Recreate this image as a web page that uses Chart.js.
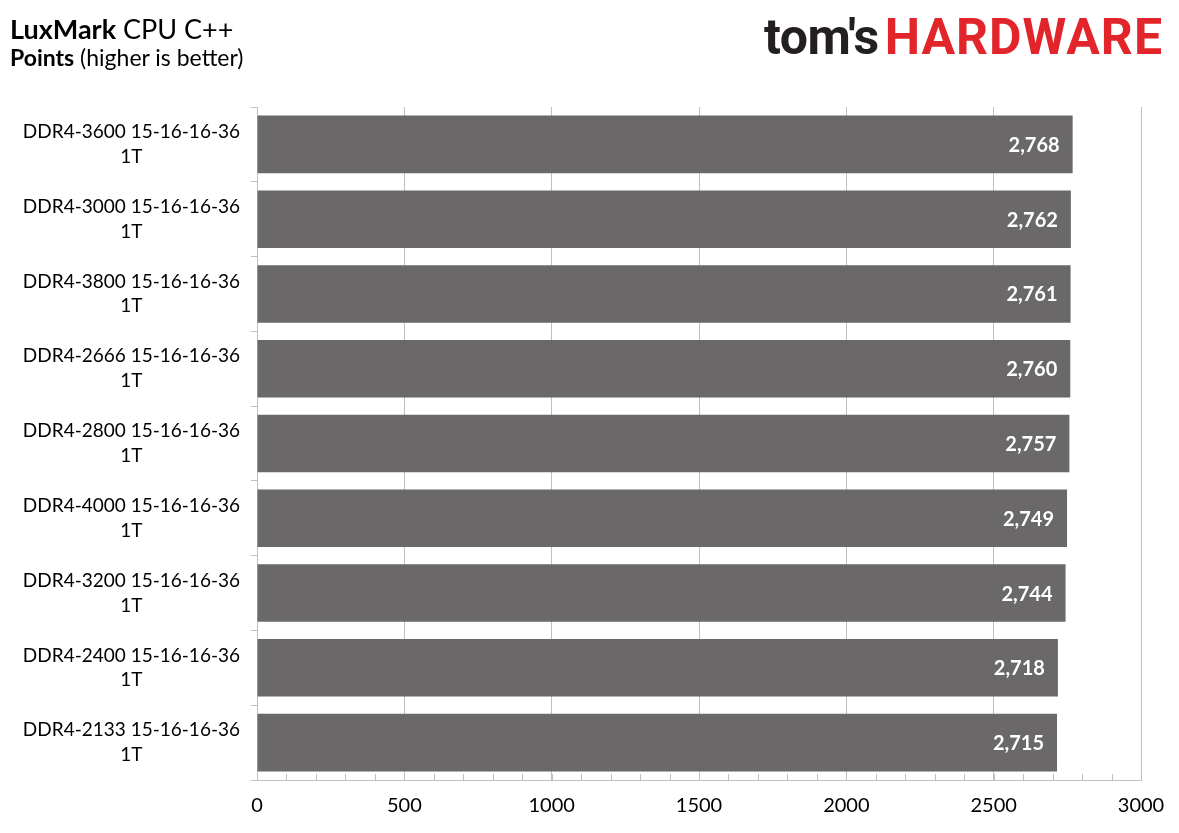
<!DOCTYPE html>
<html>
<head>
<meta charset="utf-8">
<script src="https://cdn.jsdelivr.net/npm/chart.js@4.4.0/dist/chart.umd.min.js"></script>
<style>
  body { margin: 0; background: #fff; }
  #wrap { position: relative; width: 1179px; height: 833px; font-family: Lato, sans-serif; }
  #chart { position: absolute; left: 0; top: 0; }
  .title { position: absolute; left: 10px; color: #000; white-space: nowrap; }
  #t1 { top: 12px; font-size: 27px; }
  #t2 { top: 43px; font-size: 23px; }
  #logo { position: absolute; right: 16px; top: 8px; font-family: Roboto, sans-serif; font-weight: 700; font-size: 50px; letter-spacing: -0.5px; white-space: nowrap; }
  #logo .a { color: #231f20; }
  #logo .b { color: #e1252a; margin-left: 6px; letter-spacing: 1px; }
</style>
</head>
<body>
<div id="wrap">
  <canvas id="chart" width="1179" height="833"></canvas>
  <div class="title" id="t1"><b>LuxMark</b> CPU C++</div>
  <div class="title" id="t2"><b>Points</b> (higher is better)</div>
  <div id="logo"><span class="a">tom's</span><span class="b">HARDWARE</span></div>
</div>
<script>
// memory configs, top to bottom
const categories = [
  ['DDR4-3600 15-16-16-36', '1T'],
  ['DDR4-3000 15-16-16-36', '1T'],
  ['DDR4-3800 15-16-16-36', '1T'],
  ['DDR4-2666 15-16-16-36', '1T'],
  ['DDR4-2800 15-16-16-36', '1T'],
  ['DDR4-4000 15-16-16-36', '1T'],
  ['DDR4-3200 15-16-16-36', '1T'],
  ['DDR4-2400 15-16-16-36', '1T'],
  ['DDR4-2133 15-16-16-36', '1T']
];
const points = [2768, 2762, 2761, 2760, 2757, 2749, 2744, 2718, 2715];
const xTicks = [0, 500, 1000, 1500, 2000, 2500, 3000];

// minor ticks every 100 along the x axis + value labels inside bars
const extras = {
  id: 'extras',
  afterDraw(chart) {
    const ctx = chart.ctx;
    const x = chart.scales.x;
    const area = chart.chartArea;
    ctx.save();
    ctx.strokeStyle = '#bfbfbf';
    ctx.lineWidth = 1;
    for (let v = 100; v < 3000; v += 100) {
      const px = Math.round(x.getPixelForValue(v)) + 0.5;
      ctx.beginPath();
      ctx.moveTo(px, area.bottom);
      ctx.lineTo(px, area.bottom - 6);
      ctx.stroke();
    }
    ctx.fillStyle = '#fff';
    ctx.font = 'bold 20px Lato, sans-serif';
    ctx.textAlign = 'right';
    ctx.textBaseline = 'middle';
    chart.getDatasetMeta(0).data.forEach((bar, i) => {
      ctx.fillText(points[i].toLocaleString('en-US'), bar.x - 13, bar.y + 1);
    });
    ctx.restore();
  }
};

new Chart(document.getElementById('chart'), {
  type: 'bar',
  data: {
    labels: categories,
    datasets: [{
      data: points,
      backgroundColor: '#6a6869',
      barPercentage: 0.77,
      categoryPercentage: 1.0
    }]
  },
  options: {
    indexAxis: 'y',
    responsive: false,
    animation: false,
    layout: { padding: { top: 107, right: 38, left: 0, bottom: 0 } },
    plugins: { legend: { display: false }, tooltip: { enabled: false } },
    scales: {
      x: {
        min: 0,
        max: 3000,
        z: 1,
        afterBuildTicks(scale) { scale.ticks = xTicks.map(v => ({ value: v })); },
        afterFit(scale) { scale.height = 53; },
        grid: { color: 'rgba(0,0,0,0.25)', drawTicks: false, lineWidth: 1 },
        border: { color: '#bfbfbf' },
        ticks: { color: '#000', font: { family: 'Lato', size: 20 }, padding: 14, callback: v => String(v) }
      },
      y: {
        afterFit(scale) { scale.width = 257; },
        grid: { drawOnChartArea: false, color: '#bfbfbf', tickLength: 6, offset: true },
        border: { color: '#bfbfbf' },
        ticks: { color: '#000', font: { family: 'Lato', size: 19, lineHeight: 1.3 }, crossAlign: 'center', padding: 11 }
      }
    }
  },
  plugins: [extras]
});
</script>
</body>
</html>
